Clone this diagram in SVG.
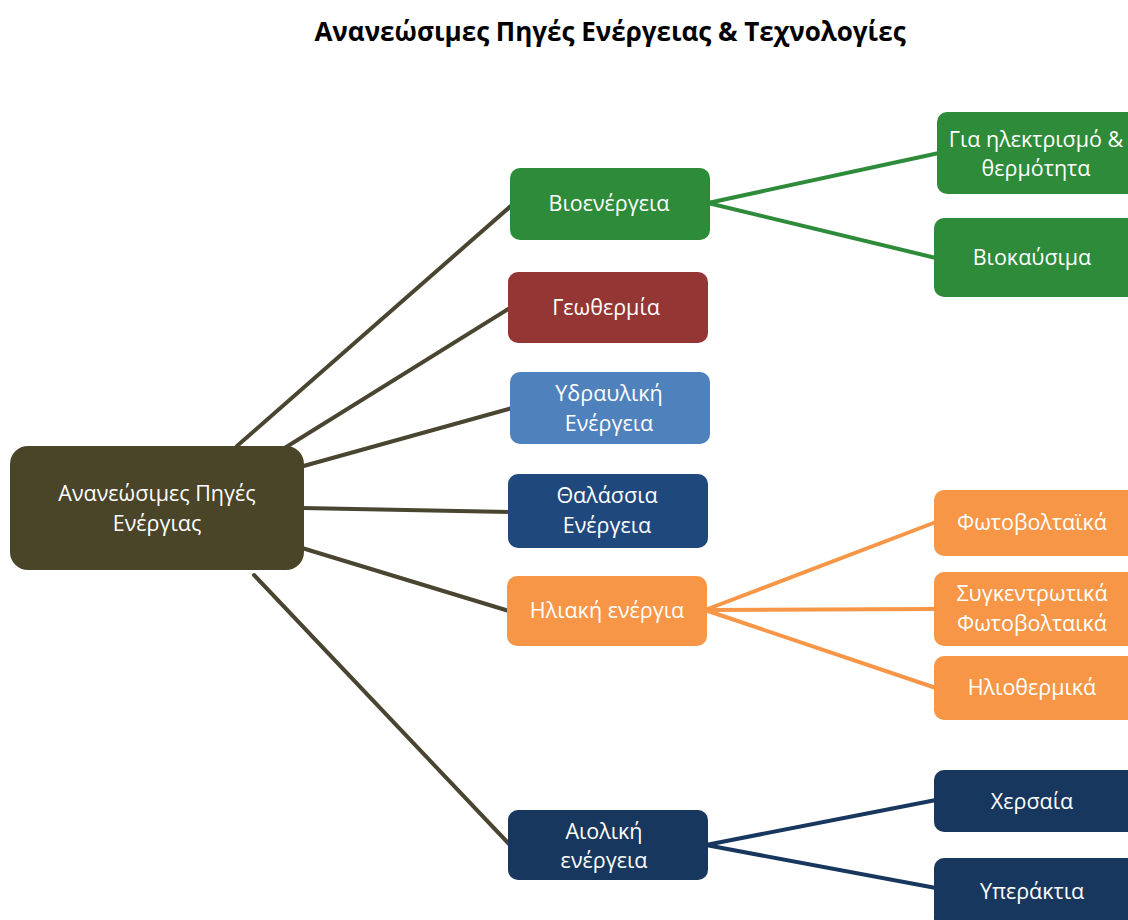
<svg xmlns="http://www.w3.org/2000/svg" width="1128" height="920" viewBox="0 0 1128 920">
<style>
.t{font-family:"Open Sans","Noto Sans","DejaVu Sans",sans-serif;font-size:21.5px;fill:#ffffff;text-anchor:middle}
.title{font-family:"Open Sans","Noto Sans","DejaVu Sans",sans-serif;font-size:26px;font-weight:bold;fill:#000;text-anchor:middle}
.c{fill:none;stroke-width:4;stroke-linecap:round}
.main{stroke:#4a4530}
.g{stroke:#2e8b3a}
.o{stroke:#f79646}
.n{stroke:#17375e}
</style>
<rect width="1128" height="920" fill="#ffffff"/>
<text class="title" x="610" y="41">Ανανεώσιμες Πηγές Ενέργειας &amp; Τεχνολογίες</text>
<g id="connectors">
<line class="c main" x1="237" y1="446" x2="512" y2="205"/>
<line class="c main" x1="283" y1="449" x2="510" y2="308"/>
<line class="c main" x1="300" y1="467" x2="512" y2="408"/>
<line class="c main" x1="302" y1="508" x2="510" y2="512"/>
<line class="c main" x1="302" y1="548" x2="509" y2="611"/>
<line class="c main" x1="254" y1="575" x2="510" y2="845"/>
<line class="c g" x1="708" y1="203" x2="939" y2="153"/>
<line class="c g" x1="708" y1="203" x2="936" y2="258"/>
<line class="c o" x1="705" y1="610" x2="936" y2="522"/>
<line class="c o" x1="705" y1="610" x2="936" y2="609"/>
<line class="c o" x1="705" y1="610" x2="936" y2="688"/>
<line class="c n" x1="706" y1="845" x2="936" y2="800"/>
<line class="c n" x1="706" y1="845" x2="936" y2="888"/>
</g>
<g id="n-root"><rect x="10" y="446" width="294" height="124" rx="18" fill="#4a4429"/><text class="t" x="157" y="501">Ανανεώσιμες Πηγές</text><text class="t" x="157" y="531">Ενέργιας</text></g>
<g id="n-bio"><rect x="510" y="168" width="200" height="72" rx="10" fill="#2e8b3a"/><text class="t" x="609" y="211">Βιοενέργεια</text></g>
<g id="n-geo"><rect x="508" y="272" width="200" height="71" rx="10" fill="#943634"/><text class="t" x="606" y="315">Γεωθερμία</text></g>
<g id="n-hydro"><rect x="510" y="372" width="200" height="72" rx="10" fill="#4f81bd"/><text class="t" x="609" y="401">Υδραυλική</text><text class="t" x="609" y="431">Ενέργεια</text></g>
<g id="n-sea"><rect x="508" y="474" width="200" height="74" rx="10" fill="#1f497d"/><text class="t" x="607" y="503">Θαλάσσια</text><text class="t" x="607" y="533">Ενέργεια</text></g>
<g id="n-solar"><rect x="507" y="576" width="200" height="70" rx="10" fill="#f79646"/><text class="t" x="607" y="618">Ηλιακή ενέργια</text></g>
<g id="n-wind"><rect x="508" y="810" width="200" height="70" rx="10" fill="#17375e"/><text class="t" x="604" y="839">Αιολική</text><text class="t" x="604" y="868">ενέργεια</text></g>
<g id="n-elec"><rect x="937" y="112" width="200" height="82" rx="10" fill="#2e8b3a"/><text class="t" x="1036" y="147">Για ηλεκτρισμό &amp;</text><text class="t" x="1036" y="176">θερμότητα</text></g>
<g id="n-biofuel"><rect x="934" y="218" width="204" height="79" rx="10" fill="#2e8b3a"/><text class="t" x="1032" y="265">Βιοκαύσιμα</text></g>
<g id="n-pv"><rect x="934" y="490" width="204" height="66" rx="10" fill="#f79646"/><text class="t" x="1032" y="530">Φωτοβολταϊκά</text></g>
<g id="n-cpv"><rect x="934" y="572" width="204" height="74" rx="10" fill="#f79646"/><text class="t" x="1032" y="601">Συγκεντρωτικά</text><text class="t" x="1032" y="631">Φωτοβολταικά</text></g>
<g id="n-thermal"><rect x="934" y="656" width="204" height="64" rx="10" fill="#f79646"/><text class="t" x="1032" y="695">Ηλιοθερμικά</text></g>
<g id="n-onshore"><rect x="934" y="770" width="204" height="62" rx="10" fill="#17375e"/><text class="t" x="1032" y="809">Χερσαία</text></g>
<g id="n-offshore"><rect x="934" y="858" width="204" height="70" rx="10" fill="#17375e"/><text class="t" x="1032" y="899">Υπεράκτια</text></g>
</svg>
